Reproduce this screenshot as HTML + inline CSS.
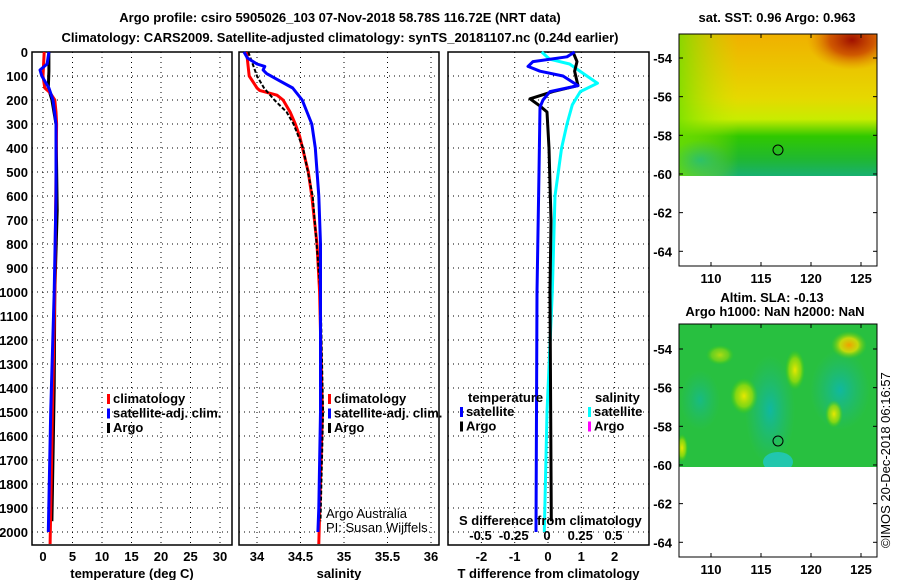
<!DOCTYPE html>
<html><head><meta charset="utf-8"><style>
body{margin:0;background:#fff}
svg{display:block;font-family:"Liberation Sans",sans-serif}
.b{font-weight:bold;font-size:13px}
.n{font-weight:normal;font-size:13px}
</style></head><body>
<svg id="chart" width="900" height="580" viewBox="0 0 900 580" xmlns="http://www.w3.org/2000/svg">
<defs>
<clipPath id="c1"><rect x="679" y="34" width="198" height="142"/></clipPath>
<clipPath id="c2"><rect x="679" y="324" width="198" height="143"/></clipPath>
<linearGradient id="sstg" x1="0" y1="0" x2="0" y2="1">
<stop offset="0" stop-color="#f0b000"/><stop offset="0.45" stop-color="#e6d800"/><stop offset="0.6" stop-color="#c8ec00"/><stop offset="0.72" stop-color="#30c800"/><stop offset="0.88" stop-color="#20b830"/><stop offset="1" stop-color="#18b070"/>
</linearGradient>
<linearGradient id="sstl" x1="0" y1="0" x2="1" y2="0">
<stop offset="0" stop-color="#70e000" stop-opacity="0.8"/><stop offset="0.3" stop-color="#c0e800" stop-opacity="0"/>
</linearGradient>
<radialGradient id="sstr" cx="0.5" cy="0.5" r="0.5">
<stop offset="0" stop-color="#a01000"/><stop offset="0.5" stop-color="#c84000" stop-opacity="0.8"/><stop offset="1" stop-color="#e08000" stop-opacity="0"/>
</radialGradient>
<radialGradient id="yb" cx="0.5" cy="0.5" r="0.5">
<stop offset="0" stop-color="#e8e800"/><stop offset="0.6" stop-color="#a8e000" stop-opacity="0.7"/><stop offset="1" stop-color="#40d000" stop-opacity="0"/>
</radialGradient>
<radialGradient id="tb" cx="0.5" cy="0.5" r="0.5">
<stop offset="0" stop-color="#10b8a0"/><stop offset="1" stop-color="#20b880" stop-opacity="0"/>
</radialGradient>
<radialGradient id="ob" cx="0.5" cy="0.5" r="0.5">
<stop offset="0" stop-color="#f0a000"/><stop offset="0.5" stop-color="#e8e000" stop-opacity="0.8"/><stop offset="1" stop-color="#60d000" stop-opacity="0"/>
</radialGradient>
</defs>
<g id="titles">
<text class="b" x="340" y="22" text-anchor="middle" font-size="14">Argo profile: csiro 5905026_103 07-Nov-2018 58.78S 116.72E (NRT data)</text>
<text class="b" x="340" y="42" text-anchor="middle" font-size="14">Climatology: CARS2009. Satellite-adjusted climatology: synTS_20181107.nc (0.24d earlier)</text>
</g>
<g id="panels"></g>
<g id="maps">
<g>
<text class="b" x="777" y="22" text-anchor="middle">sat. SST: 0.96 Argo: 0.963</text>
<g clip-path="url(#c1)">
<rect x="679" y="34" width="198" height="142" fill="url(#sstg)"/>
<rect x="679" y="34" width="198" height="142" fill="url(#sstl)"/>
<ellipse cx="852" cy="40" rx="45" ry="30" fill="url(#sstr)"/>
<ellipse cx="700" cy="160" rx="30" ry="20" fill="url(#tb)" opacity="0.6"/>
</g>
<rect x="679" y="34" width="198" height="232" fill="none" stroke="#000"/>
<circle cx="778" cy="150" r="5" fill="none" stroke="#000"/>
</g>
<g>
<text class="b" x="772" y="302" text-anchor="middle">Altim. SLA: -0.13</text>
<text class="b" x="775" y="316" text-anchor="middle">Argo h1000: NaN h2000: NaN</text>
<g clip-path="url(#c2)">
<rect x="679" y="324" width="198" height="143" fill="#28c040"/>
<ellipse cx="770" cy="410" rx="25" ry="55" fill="url(#tb)"/>
<ellipse cx="840" cy="390" rx="30" ry="40" fill="url(#tb)"/>
<ellipse cx="700" cy="400" rx="20" ry="30" fill="url(#tb)" opacity="0.7"/>
<ellipse cx="778" cy="462" rx="15" ry="10" fill="#20c8c8" opacity="0.8"/>
<ellipse cx="744" cy="396" rx="14" ry="18" fill="url(#yb)"/>
<ellipse cx="795" cy="370" rx="10" ry="20" fill="url(#yb)"/>
<ellipse cx="834" cy="414" rx="9" ry="14" fill="url(#yb)"/>
<ellipse cx="849" cy="345" rx="18" ry="14" fill="url(#ob)"/>
<ellipse cx="720" cy="355" rx="14" ry="10" fill="url(#yb)" opacity="0.7"/>
<ellipse cx="682" cy="448" rx="6" ry="14" fill="url(#yb)"/>
</g>
<rect x="679" y="324" width="198" height="233" fill="none" stroke="#000"/>
<circle cx="778" cy="441" r="5" fill="none" stroke="#000"/>
</g>
<text x="890" y="548" font-size="13" transform="rotate(-90 890 548)">©IMOS 20-Dec-2018 06:16:57</text>
</g>
</svg>
<script>
// ---- data ----
const depthTicks=[0,100,200,300,400,500,600,700,800,900,1000,1100,1200,1300,1400,1500,1600,1700,1800,1900,2000];
const tempTicks=[0,5,10,15,20,25,30];
const salTicks=[34,34.5,35,35.5,36];
const salTickLabels=["34","34.5","35","35.5","36"];
const tdTicks=[-2,-1,0,1,2];
const sdTicks=[-0.5,-0.25,0,0.25,0.5];
const sdTickLabels=["-0.5","-0.25","0","0.25","0.5"];

const climDepth=[0,100,150,170,200,250,300,500,1000,1500,2050];
const climTemp=[0.2,0.0,0.3,1.2,2.0,2.2,2.3,2.2,2.0,1.6,1.2];
const satDepth=[0,50,75,100,150,200,300,600,1000,1500,2000];
const satTemp=[1.0,0.7,-0.5,-0.2,1.0,1.7,2.2,2.2,1.9,1.3,0.9];
const argoDepth=[0,80,150,200,300,660,1000,1400,1955];
const argoTemp=[1.0,1.0,0.9,1.5,2.2,2.4,2.0,1.9,1.5];

const climSalD=[0,100,150,160,180,200,250,300,350,500,600,800,1000,1500,2050];
const climSal=[33.88,33.91,34.0,34.03,34.23,34.3,34.38,34.44,34.49,34.59,34.63,34.69,34.72,34.75,34.71];
const satSalD=[0,25,50,60,75,90,120,150,200,300,400,600,800,1000,1500,1900,2000];
const satSal=[33.85,33.89,34.0,34.09,34.07,34.11,34.26,34.41,34.52,34.63,34.67,34.71,34.73,34.73,34.73,34.71,34.7];
const argoSalD=[0,50,100,150,200,250,300,400,600,1000,1500,1955];
const argoSal=[33.9,33.95,34.0,34.08,34.2,34.34,34.42,34.53,34.64,34.73,34.76,34.73];

const tdSatD=[0,20,40,60,80,100,140,165,200,230,500,1000,2000];
const tdSat=[0.8,0.57,-0.45,-0.6,-0.24,0.45,0.9,0.06,-0.15,-0.24,-0.27,-0.33,-0.36];
const tdArgoD=[0,40,80,140,165,195,225,250,400,700,1000,1955];
const tdArgo=[0.75,0.87,0.8,0.9,0.15,-0.54,-0.24,-0.03,0.03,0.09,0.06,0.1];
const sdSatD=[0,30,50,100,130,165,220,300,400,600,1000,1500,2000];
const sdSat=[-0.04,0.02,0.17,0.3,0.38,0.25,0.19,0.15,0.11,0.06,0.04,0.0,-0.02];

// ---- drawing ----
const NS="http://www.w3.org/2000/svg";
const root=document.getElementById('panels');
const TOP=52,BOT=545;
const yD=d=>TOP+d*0.24;
function mk(tag,attrs,parent){const e=document.createElementNS(NS,tag);for(const k in attrs)e.setAttribute(k,attrs[k]);(parent||root).appendChild(e);return e;}
function txt(s,x,y,anchor,parent,cls){const t=mk('text',{x:x,y:y,'text-anchor':anchor||'start',class:cls||'b'},parent);t.textContent=s;return t;}

function panel(name,L,R,xs,ticks,labels,title,depthLabels){
  const g=mk('g',{});
  
  
  depthTicks.forEach(d=>{mk('line',{x1:L,x2:R,y1:yD(d),y2:yD(d),stroke:'#000','stroke-dasharray':'1 4','stroke-width':1},g);});
  ticks.forEach((t,i)=>{const x=xs(t);mk('line',{x1:x,x2:x,y1:TOP,y2:BOT,stroke:'#000','stroke-dasharray':'1 4'},g);
    if(labels){const tl=txt(labels[i],x,561,'middle',g);
      
      }});
  mk('rect',{x:L,y:TOP,width:R-L,height:BOT-TOP,fill:'none',stroke:'#000','stroke-width':1.5},g);
  if(title){const tt=txt(title,(L+R)/2,578,'middle',g);
    
    }
  if(depthLabels){depthTicks.forEach(d=>{const t=txt(String(d),28,yD(d)+5,'end',g);
    
    });}
  return g;
}
function line(g,xs,vals,depths,color,name,dash){
  const pts=vals.map((v,i)=>xs(v).toFixed(1)+','+yD(depths[i]).toFixed(1)).join(' ');
  const p=mk('polyline',{points:pts,fill:'none',stroke:color,'stroke-width':dash?2:3,'stroke-linejoin':'round'},g);
  if(dash)p.setAttribute('stroke-dasharray','4 2');
  
  
}
function legend(g,x,y,items){
  items.forEach((it,i)=>{mk('rect',{x:x,y:y+i*14.5-9,width:3,height:10,fill:it[1]},g);
    const t=txt(it[0],x+6,y+i*14.5,'start',g);
    
    });
}

const xT=t=>43+5.9*t;
const g1=panel('temperature-panel',32,232,xT,tempTicks,tempTicks.map(String),'temperature (deg C)',true);
line(g1,xT,argoTemp,argoDepth,'#000','argo-temperature-line');
line(g1,xT,climTemp,climDepth,'#f00','climatology-temperature-line');
line(g1,xT,satTemp,satDepth,'#0000ff','satellite-temperature-line');
legend(g1,107,403,[['climatology','#f00'],['satellite-adj. clim.','#0000ff'],['Argo','#000']]);

const xS=s=>257+87*(s-34);
const g2=panel('salinity-panel',239,439,xS,salTicks,salTickLabels,'salinity',false);
line(g2,xS,climSal,climSalD,'#f00','climatology-salinity-line');
line(g2,xS,argoSal,argoSalD,'#000','argo-salinity-line',true);
line(g2,xS,satSal,satSalD,'#0000ff','satellite-salinity-line');
legend(g2,328,403,[['climatology','#f00'],['satellite-adj. clim.','#0000ff'],['Argo','#000']]);
const a1=txt('Argo Australia',326,518,'start',g2,'n');


const a2=txt('PI: Susan Wijffels',326,532,'start',g2,'n');



const xTD=t=>548+33.3*t;
const xSD=s=>547+133*s;
const g3=panel('difference-panel',448,649,xTD,tdTicks,tdTicks.map(String),'T difference from climatology',false);
line(g3,xSD,sdSat,sdSatD,'#00ffff','satellite-salinity-difference-line');
line(g3,xTD,tdArgo,tdArgoD,'#000','argo-temperature-difference-line');
line(g3,xTD,tdSat,tdSatD,'#0000ff','satellite-temperature-difference-line');
const st=txt('S difference from climatology',459,525,'start',g3);


sdTicks.forEach((s,i)=>{const t=txt(sdTickLabels[i],xSD(s),540,'middle',g3);
  
  });
const lt=txt('temperature',468,402,'start',g3);


legend(g3,460,416,[['satellite','#0000ff'],['Argo','#000']]);
const ls=txt('salinity',595,402,'start',g3);


legend(g3,588,416,[['satellite','#00ffff'],['Argo','#ff00ff']]);

// map axes
const maps=document.getElementById('maps');
function mapAxes(top,lat54y,bottom){
  for(let lat=-54;lat>=-64;lat-=2){const y=lat54y+(-54-lat)*19.33;
    const t=txt(String(lat),672,y+5,'end',maps);
    
    
    mk('line',{x1:679,x2:683,y1:y,y2:y,stroke:'#000'},maps);mk('line',{x1:873,x2:877,y1:y,y2:y,stroke:'#000'},maps);}
  [110,115,120,125].forEach(lon=>{const x=711+(lon-110)*10;
    const t=txt(String(lon),x,bottom+17,'middle',maps);
    
    
    mk('line',{x1:x,x2:x,y1:bottom-4,y2:bottom,stroke:'#000'},maps);mk('line',{x1:x,x2:x,y1:top,y2:top+4,stroke:'#000'},maps);});
}
mapAxes(34,58,266);
mapAxes(324,349,557);
</script>
</body></html>
